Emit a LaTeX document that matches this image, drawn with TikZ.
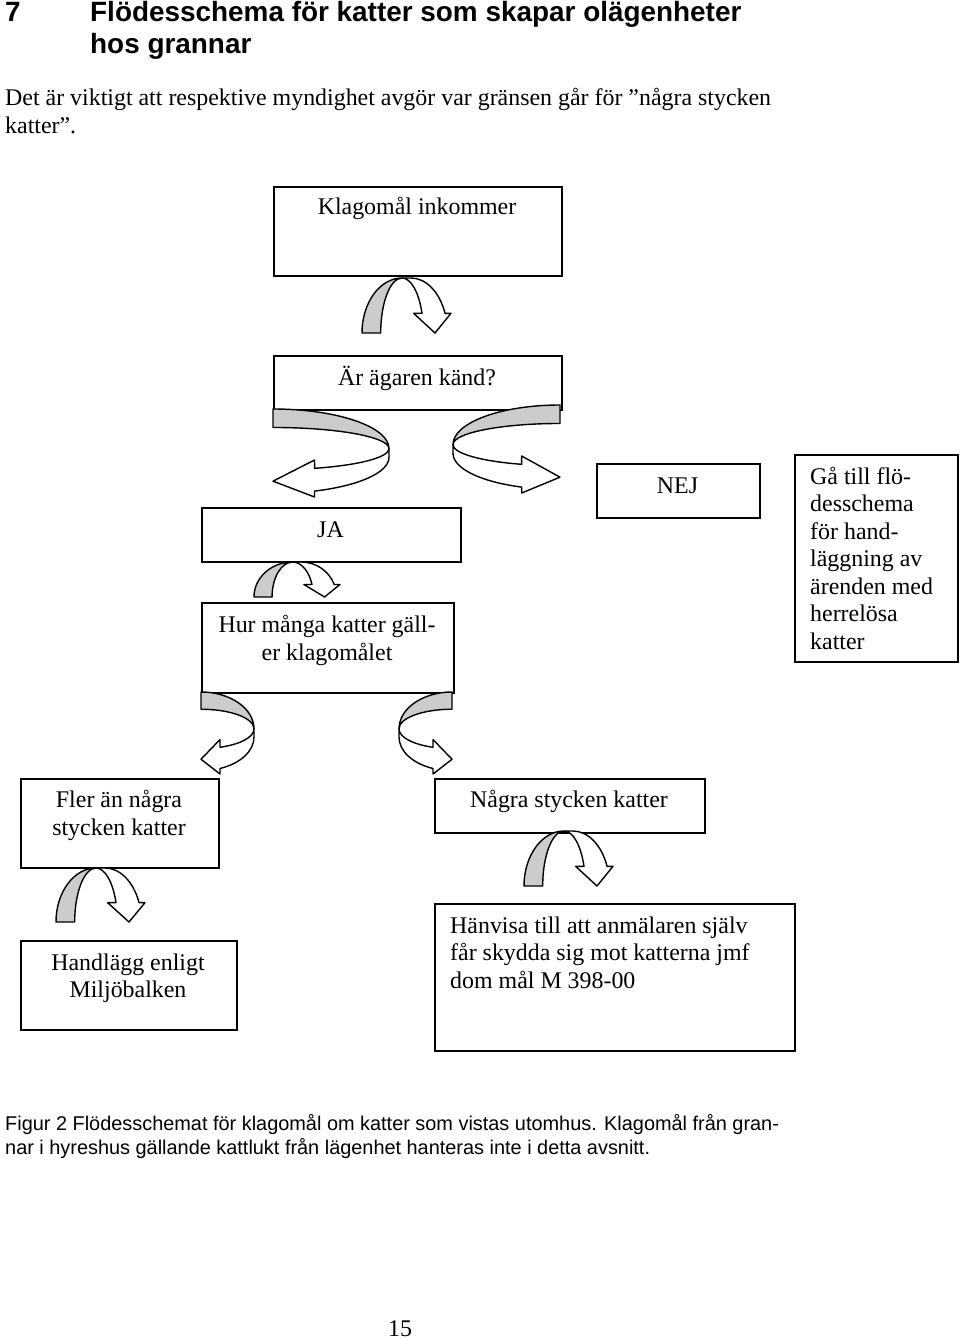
\documentclass[tikz,border=0pt]{standalone}
\usepackage{fontspec}
\setmainfont{Liberation Serif}
\newfontfamily\arialf{Liberation Sans}
\tikzset{
  box/.style={draw, line width=1.6pt, fill=white, inner sep=0pt, anchor=north west},
  txt/.style={inner sep=0pt, anchor=base, font=\fontsize{23.9}{27.5}\selectfont},
  txtl/.style={txt, anchor=base west},
  ttl/.style={inner sep=0pt, anchor=base west, font=\arialf\bfseries\fontsize{27.9}{32}\selectfont},
  captxt/.style={inner sep=0pt, anchor=base west, font=\arialf\fontsize{19.9}{24}\selectfont},
  band/.style={fill=black!20, draw=black, line width=1.4pt, line join=round},
  front/.style={fill=white, draw=black, line width=1.4pt, line join=round}
}
% curved ribbon arrow: #1,#2 origin (page px), #3 u-vector, #4 v-vector
\newcommand{\ribbonarrow}[4]{%
  \begin{scope}[shift={(#1,#2)}, x={#3}, y={#4}]
    \filldraw[band] (0,0) arc[start angle=180, end angle=90, x radius=0.45, y radius=1]
      arc[start angle=90, end angle=180, x radius=0.24, y radius=1] -- cycle;
    \filldraw[front] (0.45,1) arc[start angle=90, end angle=21, x radius=0.24, y radius=1]
      -- (0.58,0.358) -- (0.82,0) -- (1,0.358) -- (0.933,0.358)
      arc[start angle=21, end angle=90, x radius=0.41, y radius=1] -- cycle;
  \end{scope}}
\begin{document}
\begin{tikzpicture}[x=1pt, y=-1pt]
\useasboundingbox[fill=white] (0,0) rectangle (960,1340);

% heading and text
\node[ttl] (h7) at (5,22) {7};
\node[ttl] (h1) at (90,22) {Flödesschema för katter som skapar olägenheter};
\node[ttl] (h2) at (90,54) {hos grannar};
\node[txtl] (p1) at (5,106) {Det är viktigt att respektive myndighet avgör var gränsen går för ”några stycken};
\node[txtl] (p2) at (5,134) {katter”.};

% boxes
\node[box, minimum width=288pt, minimum height=89pt] (klag) at (273,186) {};
\node[box, minimum width=288pt, minimum height=54pt] (agare) at (273,355) {};
\node[box, minimum width=259pt, minimum height=54pt] (ja) at (201,507) {};
\node[box, minimum width=163pt, minimum height=54pt] (nej) at (596,463) {};
\node[box, minimum width=163pt, minimum height=207pt] (ga) at (794,454) {};
\node[box, minimum width=252pt, minimum height=90pt] (hur) at (201,602) {};
\node[box, minimum width=198pt, minimum height=89pt] (fler) at (20,778) {};
\node[box, minimum width=270pt, minimum height=54pt] (nagra) at (434,778) {};
\node[box, minimum width=216pt, minimum height=89pt] (handl) at (20,940) {};
\node[box, minimum width=360pt, minimum height=147pt] (hanv) at (434,903) {};

% box texts
\node[txt] (t1) at (417,215) {Klagomål inkommer};
\node[txt] (t2) at (417,385) {Är ägaren känd?};
\node[txt] (t3) at (330.5,537) {JA};
\node[txt] (t4) at (677.5,493) {NEJ};
\node[txtl] (t5a) at (810,484) {Gå till flö-};
\node[txtl] (t5b) at (810,511) {desschema};
\node[txtl] (t5c) at (810,539) {för hand-};
\node[txtl] (t5d) at (810,566) {läggning av};
\node[txtl] (t5e) at (810,594) {ärenden med};
\node[txtl] (t5f) at (810,621) {herrelösa};
\node[txtl] (t5g) at (810,649) {katter};
\node[txt] (t6a) at (327,632) {Hur många katter gäll-};
\node[txt] (t6b) at (327,660) {er klagomålet};
\node[txt] (t7a) at (119,807) {Fler än några};
\node[txt] (t7b) at (119,835) {stycken katter};
\node[txt] (t8) at (569,807) {Några stycken katter};
\node[txt] (t9a) at (128,970) {Handlägg enligt};
\node[txt] (t9b) at (128,997) {Miljöbalken};
\node[txtl] (t10a) at (450,933) {Hänvisa till att anmälaren själv};
\node[txtl] (t10b) at (450,960) {får skydda sig mot katterna jmf};
\node[txtl] (t10c) at (450,988) {dom mål M 398-00};

% curved arrows
\ribbonarrow{362}{333}{(89pt,0pt)}{(0pt,55pt)}
\ribbonarrow{254}{597}{(86pt,0pt)}{(0pt,35pt)}
\ribbonarrow{56}{922}{(89pt,0pt)}{(0pt,54pt)}
\ribbonarrow{524}{886}{(89pt,0pt)}{(0pt,55pt)}
\ribbonarrow{273}{409}{(0pt,-88pt)}{(116pt,0pt)}
\ribbonarrow{560}{405}{(0pt,-88pt)}{(-107pt,0pt)}
\ribbonarrow{201}{692}{(0pt,-82pt)}{(53pt,0pt)}
\ribbonarrow{452}{692}{(0pt,-82pt)}{(-53pt,0pt)}

% caption and page number
\node[captxt] (c1) at (5,1130) {Figur 2 Flödesschemat för klagomål om katter som vistas utomhus. Klagomål från gran-};
\node[captxt] (c2) at (5,1154) {nar i hyreshus gällande kattlukt från lägenhet hanteras inte i detta avsnitt.};
\node[txt] (pg) at (400,1336) {15};
\end{tikzpicture}
\end{document}
